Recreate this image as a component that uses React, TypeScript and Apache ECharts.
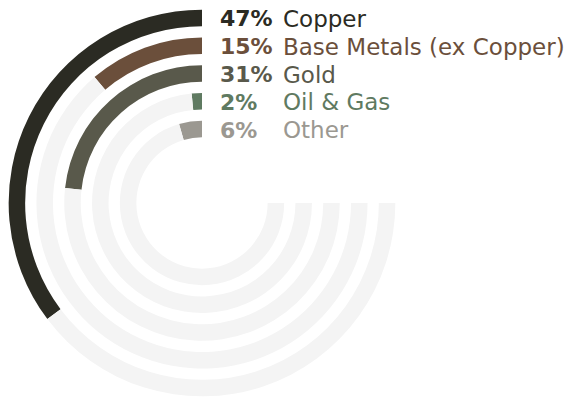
import React, { useEffect, useRef } from "react";
import * as echarts from "echarts";

const categories = ["Copper", "Base Metals (ex Copper)", "Gold", "Oil & Gas", "Other"];
const values = [47, 15, 31, 2, 6];
const trackTotal = 100;
const colors = ["#2b2b23", "#6b4f3b", "#59594b", "#5f7a61", "#9b9891"];
const trackColor = "#f4f4f4";

const W = 585;
const H = 397;
const CX = 202;
const CY = 203;
const R_IN = 60;
const R_OUT = 199;
const FONT = "'DejaVu Sans', sans-serif";

export default function App() {
  const ref = useRef<HTMLDivElement>(null);
  useEffect(() => {
    if (!ref.current) return;
    const chart = echarts.init(ref.current, null, { renderer: "svg" });
    const band = (R_OUT - R_IN) / categories.length;
    const graphics: any[] = [];
    categories.forEach((name, i) => {
      const r = R_OUT - (i + 0.5) * band;
      const y = CY - r + 1;
      graphics.push({
        type: "text",
        x: 220,
        y,
        style: {
          text: values[i] + "%",
          fill: colors[i],
          font: `bold 22px ${FONT}`,
          textVerticalAlign: "middle",
          textAlign: "left",
        },
      });
      graphics.push({
        type: "text",
        x: 283,
        y,
        style: {
          text: name,
          fill: colors[i],
          font: `normal 23px ${FONT}`,
          textVerticalAlign: "middle",
          textAlign: "left",
        },
      });
    });
    chart.setOption({
      animation: false,
      polar: { center: [CX, CY], radius: [R_IN, R_OUT] },
      angleAxis: {
        type: "value",
        min: 0,
        max: trackTotal / 0.75,
        startAngle: 90,
        clockwise: false,
        show: false,
      },
      radiusAxis: {
        type: "category",
        data: categories,
        inverse: true,
        show: false,
      },
      series: [
        {
          type: "bar",
          coordinateSystem: "polar",
          stack: "ring",
          data: values.map((v, i) => ({ value: v, itemStyle: { color: colors[i] } })),
          barWidth: 16.5,
        },
        {
          type: "bar",
          coordinateSystem: "polar",
          stack: "ring",
          data: values.map((v) => trackTotal - v),
          barWidth: 16.5,
          itemStyle: { color: trackColor },
          silent: true,
        },
      ],
      graphic: graphics,
    });
    return () => chart.dispose();
  }, []);
  return (
    <div
      ref={ref}
      style={{ position: "fixed", left: 0, top: 0, width: W, height: H, background: "#fff" }}
    />
  );
}
